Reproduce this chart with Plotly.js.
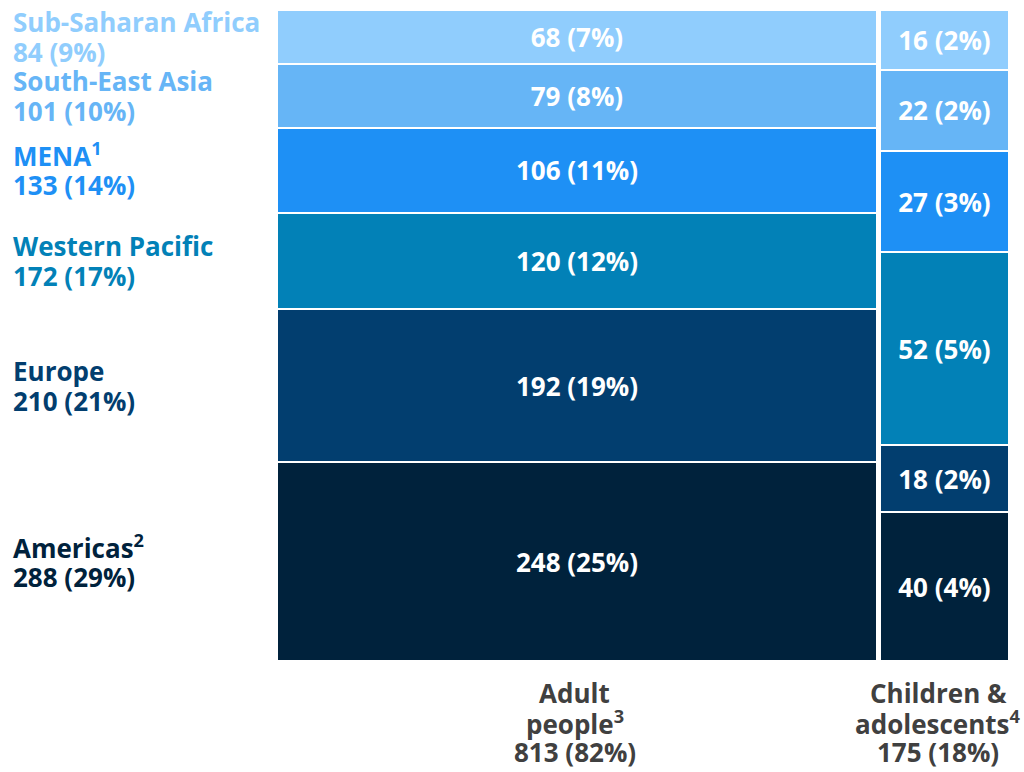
<!DOCTYPE html>
<html>
<head>
<meta charset="utf-8">
<script src="https://cdn.plot.ly/plotly-3.0.1.min.js"></script>
<style>html,body{margin:0;padding:0;background:#fff;}#chart{width:1024px;height:772px;}</style>
</head>
<body>
<div id="chart"></div>
<script>
// ---- data ----
const regions = ["Americas<sup>2</sup>", "Europe", "Western Pacific", "MENA<sup>1</sup>", "South-East Asia", "Sub-Saharan Africa"];
const adultValues = [248, 192, 120, 106, 79, 68];
const adultPct = [25, 19, 12, 11, 8, 7];
const childValues = [40, 18, 52, 27, 22, 16];
const childPct = [4, 2, 5, 3, 2, 2];
const regionPct = [29, 21, 17, 14, 10, 9];
const groupLines = [["Adult", "people<sup>3</sup>"], ["Children &", "adolescents<sup>4</sup>"]];
const groupPct = [82, 18];

// ---- styles ----
const colors = ["#00223C", "#023E6F", "#0281B7", "#1E90F5", "#66B5F6", "#90CDFD"];
const FONT = "'Open Sans', 'Noto Sans', sans-serif";
const FS = 26;
const GAP = 4;

const adultTotal = adultValues.reduce((a, b) => a + b, 0);
const childTotal = childValues.reduce((a, b) => a + b, 0);
const xAdult = adultTotal / 2;
const xChild = adultTotal + GAP + childTotal / 2;
const xMax = adultTotal + GAP + childTotal;

const traces = regions.map((r, i) => ({
  type: "bar",
  name: r,
  x: [xAdult, xChild],
  width: [adultTotal, childTotal],
  y: [adultValues[i] / adultTotal, childValues[i] / childTotal],
  text: [
    "<b>" + adultValues[i] + " (" + adultPct[i] + "%)</b>",
    "<b>" + childValues[i] + " (" + childPct[i] + "%)</b>"
  ],
  texttemplate: "%{text}",
  textposition: "inside",
  insidetextanchor: "middle",
  textangle: 0,
  constraintext: "none",
  textfont: { family: FONT, size: FS, color: "#ffffff" },
  marker: { color: colors[i], line: { color: "#ffffff", width: 2 } },
  hoverinfo: "skip",
  showlegend: false
}));

const annotations = [];
let cum = 0;
regions.forEach((r, i) => {
  const h = adultValues[i] / adultTotal;
  const mid = cum + h / 2;
  cum += h;
  const lines = [r, (adultValues[i] + childValues[i]) + " (" + regionPct[i] + "%)"];
  lines.forEach((t, k) => {
    annotations.push({
      xref: "paper", yref: "y",
      x: -266 / 732, y: mid,
      yshift: k === 0 ? 15 : -15,
      xanchor: "left", yanchor: "middle",
      align: "left",
      showarrow: false,
      text: "<b>" + t + "</b>",
      font: { family: FONT, size: FS, color: colors[i] }
    });
  });
});
const groupTotals = [adultTotal, childTotal];
[xAdult, xChild].forEach((xc, j) => {
  const lines = groupLines[j].concat([groupTotals[j] + " (" + groupPct[j] + "%)"]);
  lines.forEach((t, k) => {
    annotations.push({
      xref: "x", yref: "paper",
      x: xc, y: 0,
      xshift: j === 1 ? -6 : -2,
      yshift: -32 - 29.5 * k,
      xanchor: "center", yanchor: "middle",
      align: "center",
      showarrow: false,
      text: "<b>" + t + "</b>",
      font: { family: FONT, size: FS, color: "#404040" }
    });
  });
});

const layout = {
  width: 1024, height: 772,
  margin: { l: 277, r: 15, t: 10, b: 111 },
  paper_bgcolor: "#ffffff", plot_bgcolor: "#ffffff",
  barmode: "stack",
  xaxis: { range: [0, xMax], visible: false, fixedrange: true },
  yaxis: { range: [0, 1], visible: false, fixedrange: true },
  annotations: annotations,
  font: { family: FONT }
};

Plotly.newPlot("chart", traces, layout, { displayModeBar: false, staticPlot: true });
</script>
</body>
</html>
